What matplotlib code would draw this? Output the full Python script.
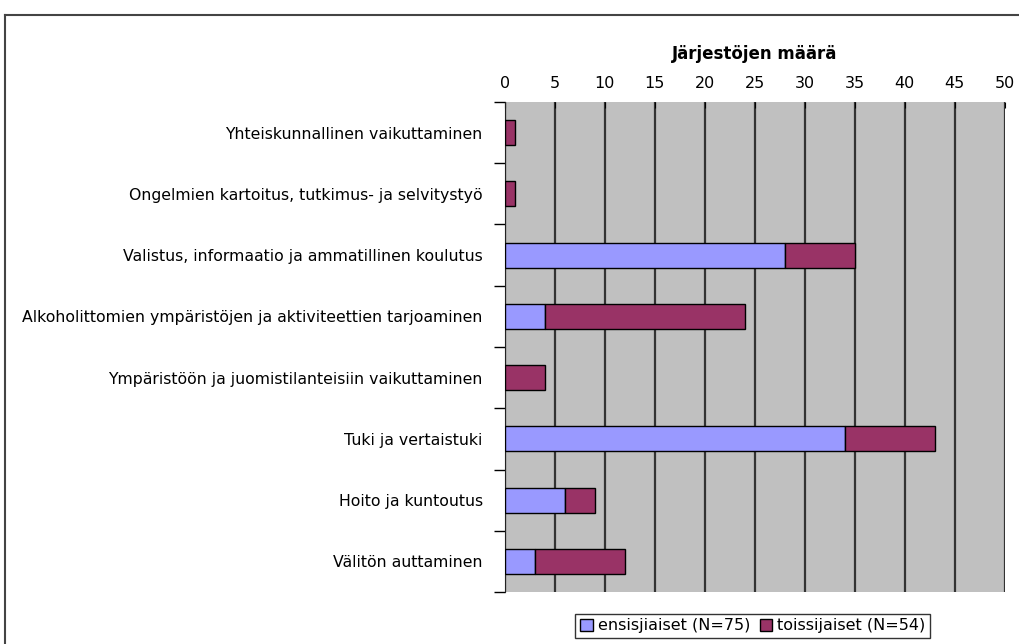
import numpy as np
import matplotlib
matplotlib.use("Agg")
import matplotlib.pyplot as plt
from matplotlib.lines import Line2D

categories = [
    "Yhteiskunnallinen vaikuttaminen",
    "Ongelmien kartoitus, tutkimus- ja selvitystyö",
    "Valistus, informaatio ja ammatillinen koulutus",
    "Alkoholittomien ympäristöjen ja aktiviteettien tarjoaminen",
    "Ympäristöön ja juomistilanteisiin vaikuttaminen",
    "Tuki ja vertaistuki",
    "Hoito ja kuntoutus",
    "Välitön auttaminen",
]
ensisijaiset = [0, 0, 28, 4, 0, 34, 6, 3]
toissijaiset = [1, 1, 7, 20, 4, 9, 3, 9]
xticks = list(range(0, 51, 5))

BLUE, PLUM = "#9999ff", "#993366"
plt.rcParams["font.family"] = ["DejaVu Sans"]

fig = plt.figure(figsize=(10.2, 6.44), dpi=100)
ax = fig.add_axes([0.495, 0.0807, 0.49, 0.761])
ax.set_facecolor("#c0c0c0")

y = np.arange(len(categories))
ax.barh(y, ensisijaiset, 0.41, color=BLUE, edgecolor="black", linewidth=1,
        label="ensisjiaiset (N=75)", zorder=3)
ax.barh(y, toissijaiset, 0.41, left=ensisijaiset, color=PLUM,
        edgecolor="black", linewidth=1, label="toissijaiset (N=54)", zorder=3)

ax.set_xlim(0, 50)
ax.set_ylim(len(categories) - 0.5, -0.5)
ax.set_xticks(xticks)
ax.xaxis.tick_top()
ax.xaxis.set_label_position("top")
ax.set_xlabel("Järjestöjen määrä", fontsize=12, fontweight="bold", labelpad=12)
ax.tick_params(axis="x", length=4, direction="in", labelsize=11.5, pad=8)
ax.grid(axis="x", color="#333333", linewidth=1.6, zorder=1)

ax.set_yticks(y)
ax.set_yticklabels(categories, fontsize=11.3)
ax.set_yticks(np.arange(len(categories) + 1) - 0.5, minor=True)
ax.tick_params(axis="y", which="major", length=0, pad=16)
ax.tick_params(axis="y", which="minor", length=8, direction="out", width=1)
for side in ["top", "right", "bottom"]:
    ax.spines[side].set_visible(False)
ax.spines["left"].set_color("#222222")

leg = fig.legend(loc="center", bbox_to_anchor=(0.738, 0.028), ncol=2,
                 fontsize=11.5, frameon=True, fancybox=False, edgecolor="black",
                 handlelength=0.8, handleheight=0.8, handletextpad=0.3,
                 columnspacing=0.6, borderpad=0.3)
leg.get_frame().set_linewidth(1)

# outer chart border (only left and top visible)
fig.add_artist(Line2D([0.005, 0.005], [0, 0.977], color="#444444", lw=1.5,
                      transform=fig.transFigure))
fig.add_artist(Line2D([0.005, 1.0], [0.977, 0.977], color="#444444", lw=1.5,
                      transform=fig.transFigure))

fig.savefig("out.png", dpi=100)
